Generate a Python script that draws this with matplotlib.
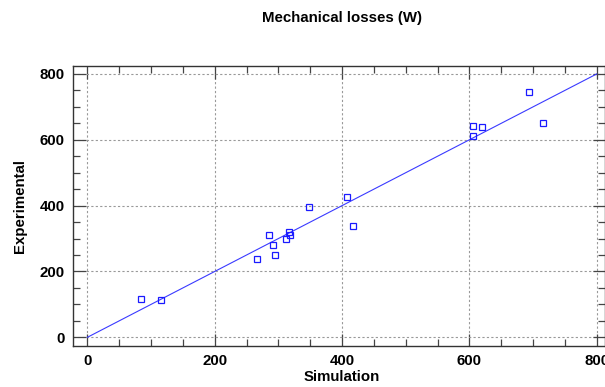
import numpy as np
import matplotlib
matplotlib.use("Agg")
import matplotlib.pyplot as plt
from matplotlib.ticker import MultipleLocator

plt.rcParams['font.family'] = ['Liberation Sans', 'DejaVu Sans']

# simulated vs experimental mechanical losses (W)
simulation = [84, 115, 267, 285, 292, 295, 312, 316, 318, 348, 408, 417,
              605, 606, 620, 693, 715]
experimental = [116, 114, 239, 310, 280, 249, 300, 320, 310, 397, 427, 339,
                642, 610, 639, 746, 652]
fit_x = [0, 800]
fit_y = [0, 800]

fig = plt.figure(figsize=(6.05, 3.87), dpi=100)
ax = fig.add_axes([0.1202, 0.1067, 0.8798, 0.7235])

ax.plot(fit_x, fit_y, color='#3a3aff', lw=0.8, zorder=3)
ax.plot(simulation, experimental, ls='none', marker='s', ms=5,
        mfc='none', mec='#1a1aff', mew=0.9, zorder=4)

ax.set_xlim(-23, 813)
ax.set_ylim(-25.5, 825)
ax.xaxis.set_major_locator(MultipleLocator(200))
ax.yaxis.set_major_locator(MultipleLocator(200))
ax.xaxis.set_minor_locator(MultipleLocator(50))
ax.yaxis.set_minor_locator(MultipleLocator(50))
ax.tick_params(which='both', direction='in', top=True, right=True,
               color='#444444', width=0.9)
ax.tick_params(which='major', length=9, labelsize=10.8, pad=6)
ax.tick_params(which='minor', length=5)
for lbl in ax.get_xticklabels() + ax.get_yticklabels():
    lbl.set_fontweight('bold')

ax.grid(True, which='major', ls=(0, (2, 2)), color='#999999', lw=0.8)
for s in ax.spines.values():
    s.set_color('#333333')
    s.set_linewidth(1.0)

ax.set_xlabel('Simulation', fontsize=10.8, fontweight='bold')
ax.set_ylabel('Experimental', fontsize=10.8, fontweight='bold')
ax.xaxis.set_label_coords((342 - 72.7) / (605 - 72.7), -0.088)
ax.yaxis.set_label_coords(-0.086, 0.5)
fig.text(342 / 605, 1 - 18 / 387, 'Mechanical losses (W)', ha='center',
         va='center', fontsize=10.8, fontweight='bold')

fig.savefig('out.png', dpi=100)
